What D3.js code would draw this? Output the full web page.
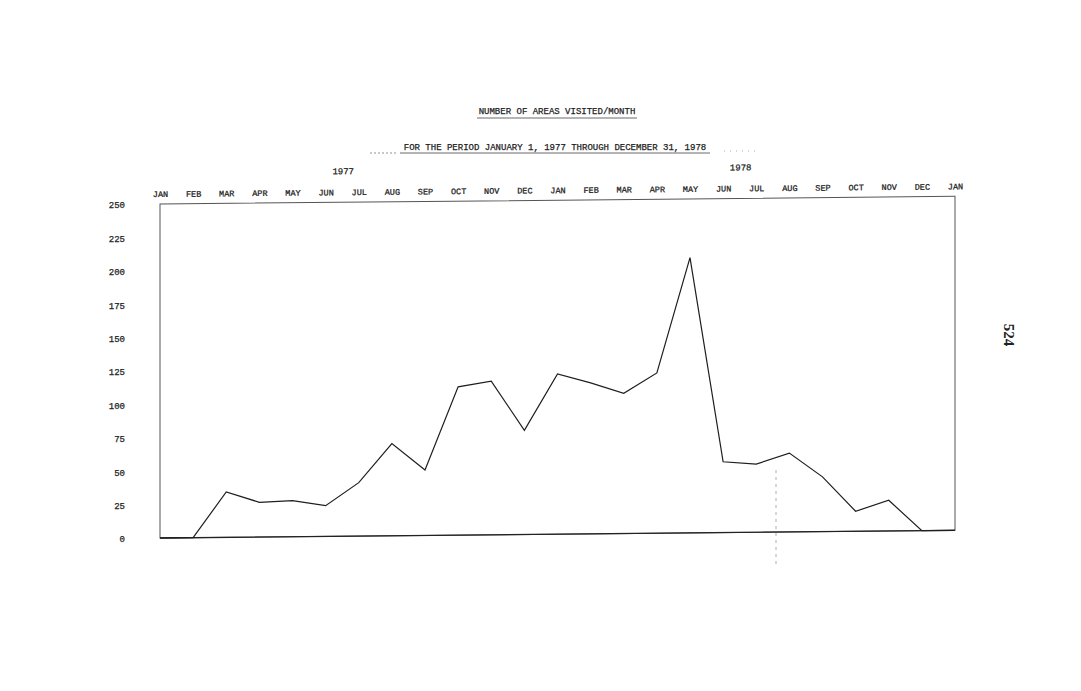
<!DOCTYPE html>
<html>
<head>
<meta charset="utf-8">
<script src="https://cdn.jsdelivr.net/npm/d3@7"></script>
<style>
  html, body { margin: 0; padding: 0; background: #fff; }
  svg { display: block; }
  text { font-family: "Liberation Mono", "DejaVu Sans Mono", monospace; fill: #222; stroke: #222; stroke-width: 0.25px; }
</style>
</head>
<body>
<script>
// ---- data ----
const monthLabels = ["JAN","FEB","MAR","APR","MAY","JUN","JUL","AUG","SEP","OCT","NOV","DEC",
                     "JAN","FEB","MAR","APR","MAY","JUN","JUL","AUG","SEP","OCT","NOV","DEC","JAN"];
const yearLabels = ["1977", "1978"];
const areasVisited = [0, 0, 34, 26, 27, 23, 40, 69, 49, 111, 115, 78,
                      120, 113, 105, 120, 206, 53, 51, 59, 41, 15, 23, 0, 0];
const yTicks = [0, 25, 50, 75, 100, 125, 150, 175, 200, 225, 250];
const titleText = "NUMBER OF AREAS VISITED/MONTH";
const subtitleText = "FOR THE PERIOD JANUARY 1, 1977 THROUGH DECEMBER 31, 1978";
const pageNumber = "524";

// ---- layout ----
const W = 1081, H = 691;
const plotL = 160, plotR = 955, plotT = 204, plotB = 538;
const skewDeg = -0.55;

const svg = d3.select("body").append("svg")
  .attr("width", W).attr("height", H)
  .style("background", "#fff");

const x = d3.scaleLinear().domain([0, monthLabels.length - 1]).range([plotL, plotR]);
const y = d3.scaleLinear().domain([0, 250]).range([plotB, plotT]);

// titles
svg.append("text").attr("x", 557).attr("y", 114)
  .attr("text-anchor", "middle").attr("font-size", 9).text(titleText);
svg.append("line").attr("x1", 477).attr("x2", 637).attr("y1", 118).attr("y2", 118)
  .attr("stroke", "#444").attr("stroke-width", 0.8);

svg.append("text").attr("x", 555).attr("y", 150)
  .attr("text-anchor", "middle").attr("font-size", 9).text(subtitleText);
svg.append("line").attr("x1", 400).attr("x2", 710).attr("y1", 153).attr("y2", 153)
  .attr("stroke", "#444").attr("stroke-width", 0.8);
svg.append("line").attr("x1", 370).attr("x2", 398).attr("y1", 153).attr("y2", 153)
  .attr("stroke", "#777").attr("stroke-width", 0.8).attr("stroke-dasharray", "2,2");
svg.append("line").attr("x1", 724).attr("x2", 760).attr("y1", 151).attr("y2", 151)
  .attr("stroke", "#999").attr("stroke-width", 0.8).attr("stroke-dasharray", "1,5");

// y axis labels (left)
const yAxis = d3.axisLeft(y).tickValues(yTicks).tickSize(0).tickPadding(0);
const gy = svg.append("g").attr("transform", "translate(125,1)").call(yAxis);
gy.select(".domain").remove();
gy.selectAll("text").attr("font-family", "Liberation Mono, monospace")
  .attr("font-size", 9).attr("fill", "#222");

// skewed plot group (scan is slightly tilted)
const g = svg.append("g")
  .attr("transform", `translate(${plotL},0) skewY(${skewDeg}) translate(${-plotL},0)`);

// month labels on top
const xAxis = d3.axisTop(x).tickValues(d3.range(monthLabels.length))
  .tickFormat(i => monthLabels[i]).tickSize(0).tickPadding(0);
const gx = g.append("g").attr("transform", "translate(0,197)").call(xAxis);
gx.select(".domain").remove();
gx.selectAll("text").attr("font-family", "Liberation Mono, monospace")
  .attr("font-size", 8.5).attr("fill", "#222");

// year labels (centred between JUN and JUL of each year)
g.selectAll("text.year").data(yearLabels).join("text")
  .attr("class", "year")
  .attr("x", (d, i) => (x(5 + 12 * i) + x(6 + 12 * i)) / 2 + 1)
  .attr("y", 176)
  .attr("text-anchor", "middle").attr("font-size", 9)
  .text(d => d);

// frame
g.append("rect").attr("x", plotL).attr("y", plotT)
  .attr("width", plotR - plotL).attr("height", plotB - plotT)
  .attr("fill", "none").attr("stroke", "#555").attr("stroke-width", 1);
g.append("line").attr("x1", plotL).attr("x2", plotR).attr("y1", plotB).attr("y2", plotB)
  .attr("stroke", "#222").attr("stroke-width", 1.3);

// data line
const line = d3.line().x((d, i) => x(i)).y(d => y(d));
g.append("path").datum(areasVisited)
  .attr("d", line)
  .attr("fill", "none").attr("stroke", "#1e1e1e")
  .attr("stroke-width", 1.2).attr("stroke-linejoin", "miter");

// faint scan artefact (vertical dotted line)
svg.append("line").attr("x1", 776).attr("x2", 776).attr("y1", 470).attr("y2", 566)
  .attr("stroke", "#999").attr("stroke-width", 0.8).attr("stroke-dasharray", "3,4");

// page number
svg.append("text")
  .attr("transform", "translate(1004,335) rotate(90)")
  .attr("text-anchor", "middle")
  .style("font-family", "Liberation Serif, DejaVu Serif, serif")
  .style("stroke-width", "0px")
  .attr("font-size", 15).attr("font-weight", "bold").attr("fill", "#333")
  .text(pageNumber);
</script>
</body>
</html>
